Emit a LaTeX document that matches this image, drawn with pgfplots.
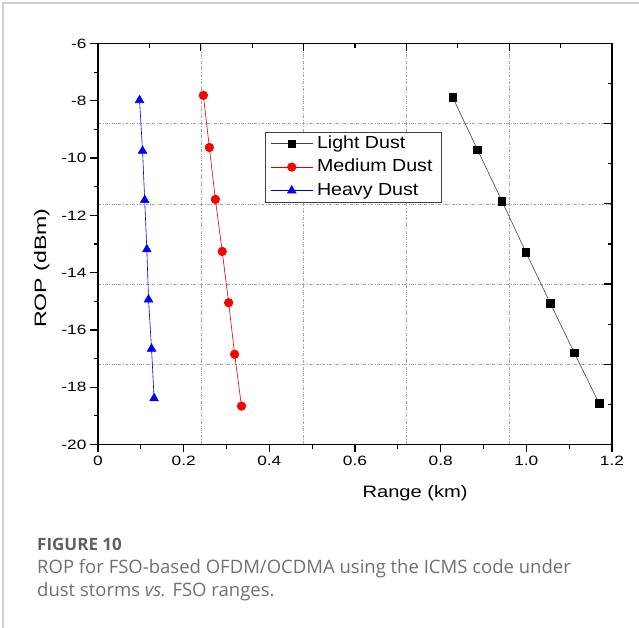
\documentclass[border=0pt]{standalone}
\usepackage{pgfplots}
\pgfplotsset{compat=1.18}
\usepackage{fontspec}
\setmainfont{Liberation Sans}
\newfontfamily\capfont{Open Sans}
\newcommand{\sx}[1]{\scalebox{1.28}[1]{#1}}
\newcommand{\slg}[1]{\scalebox{1.12}[1]{#1}}
\begin{document}
\begin{tikzpicture}[x=1pt,y=1pt]
\useasboundingbox (0,0) rectangle (639,628);
\draw[black!18, line width=1.2pt] (639,625) -- (3,625) -- (3,0);
% grid and mirrored inside ticks (top/right)
\begin{axis}[at={(98pt,183.5pt)}, anchor=south west, scale only axis,
  width=514pt, height=401pt, xmin=0, xmax=1.2, ymin=-20, ymax=-6,
  xtick={0.24,0.48,0.72,0.96}, minor xtick={0.12,0.36,0.6,0.84,1.08},
  ytick={-8.8,-11.6,-14.4,-17.2}, minor ytick={-7.4,-10.2,-13,-15.8,-18.6},
  xtick pos=right, ytick pos=right, tick align=inside,
  xticklabels={}, yticklabels={},
  grid=major,
  major grid style={black!35, dash pattern=on 3pt off 1.5pt on 0.8pt off 1.5pt, line width=0.6pt},
  major tick length=8pt, minor tick length=4.5pt,
  axis line style={line width=1.4pt},
  tick style={line width=1.2pt, black}]
\end{axis}
% main axis
\begin{axis}[at={(98pt,183.5pt)}, anchor=south west, scale only axis,
  width=514pt, height=401pt, xmin=0, xmax=1.2, ymin=-20, ymax=-6,
  xtick={0,0.2,0.4,0.6,0.8,1.0,1.2},
  xticklabels={\sx{0},\sx{0.2},\sx{0.4},\sx{0.6},\sx{0.8},\sx{1.0},\sx{1.2}},
  minor xtick={0.1,0.3,0.5,0.7,0.9,1.1},
  ytick={-20,-18,-16,-14,-12,-10,-8,-6},
  yticklabels={\sx{-20},\sx{-18},\sx{-16},\sx{-14},\sx{-12},\sx{-10},\sx{-8},\sx{-6}},
  minor ytick={-19,-17,-15,-13,-11,-9,-7},
  xtick pos=left, ytick pos=left, tick align=outside,
  major tick length=8pt, minor tick length=4.5pt,
  axis line style={line width=1.4pt},
  tick style={line width=1.2pt, black},
  ticklabel style={font=\fontsize{13.5}{16}\selectfont},
  xlabel={\scalebox{1.22}[1]{Range (km)}}, ylabel={\scalebox{1.4}[1]{ROP (dBm)}},
  label style={font=\fontsize{16.5}{20}\selectfont},
  xlabel style={at={(rel axis cs:0.617,-0.121)}, anchor=center},
  ylabel style={at={(rel axis cs:-0.109,0.44)}, anchor=center},
  legend style={at={(rel axis cs:0.325,0.780)}, anchor=north west,
    font=\fontsize{17.5}{20}\selectfont, draw=black!75, line width=0.8pt,
    inner xsep=5pt, inner ysep=1pt, row sep=2.5pt,
    nodes={inner xsep=4pt, inner ysep=2pt, text height=13pt, text depth=4pt}},
  legend cell align=left,
  legend image code/.code={\draw[mark repeat=2, mark phase=2, #1] plot coordinates {(0pt,0pt) (21pt,0pt) (42pt,0pt)};}
]
\addplot[black!75, line width=0.6pt, mark=square*, mark size=3.8pt, mark options={solid, fill=black, draw=black}]
  coordinates {(0.828,-7.88) (0.886,-9.71) (0.943,-11.50) (0.999,-13.29) (1.056,-15.07) (1.112,-16.80) (1.170,-18.57)};
\addlegendentry{\slg{Light Dust}}
\addplot[red!85!black, line width=0.6pt, mark=*, mark size=4.3pt, mark options={solid, fill=red, draw=red}]
  coordinates {(0.246,-7.81) (0.260,-9.63) (0.274,-11.44) (0.290,-13.26) (0.305,-15.05) (0.319,-16.85) (0.335,-18.66)};
\addlegendentry{\slg{Medium Dust}}
\addplot[blue!80!black, line width=0.6pt, mark=triangle*, mark size=5pt, mark options={solid, fill=blue, draw=blue}]
  coordinates {(0.097,-7.98) (0.104,-9.75) (0.109,-11.47) (0.114,-13.19) (0.118,-14.94) (0.125,-16.66) (0.131,-18.39)};
\addlegendentry{\slg{Heavy Dust}}
\end{axis}
\node[anchor=base west, inner sep=0pt, font=\capfont\bfseries\fontsize{17}{20}\selectfont, text=black!62] at (37,77) {FIGURE 10};
\node[anchor=base west, inner sep=0pt, font=\capfont\fontsize{18.5}{22}\selectfont, text=black!56] at (37,54) {ROP for FSO-based OFDM/OCDMA using the ICMS code under};
\node[anchor=base west, inner sep=0pt, font=\capfont\fontsize{18.5}{22}\selectfont, text=black!56] at (37,31) {dust storms \textit{vs.} FSO ranges.};
\end{tikzpicture}
\end{document}
